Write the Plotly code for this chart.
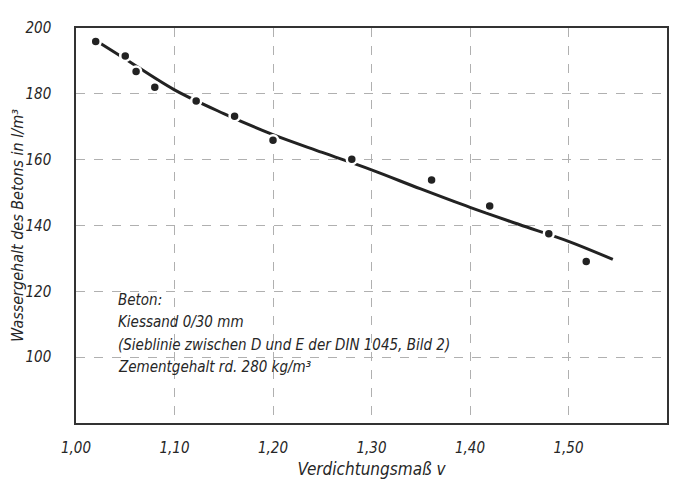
import plotly.graph_objects as go

# Measured points (Verdichtungsmaß v, Wassergehalt l/m³)
v_points = [1.02, 1.05, 1.061, 1.08, 1.122, 1.161, 1.20, 1.280, 1.361, 1.420, 1.480, 1.518]
w_points = [195.9, 191.5, 186.8, 182.0, 177.8, 173.2, 165.9, 160.1, 153.8, 145.9, 137.5, 129.1]

# Fitted curve
v_curve = [1.025, 1.05, 1.10, 1.15, 1.20, 1.25, 1.30, 1.35, 1.40, 1.45, 1.50, 1.545]
w_curve = [195.3, 190.6, 181.2, 174.0, 167.6, 162.2, 156.9, 151.1, 145.5, 140.3, 135.2, 129.7]

x_ticks = [1.0, 1.1, 1.2, 1.3, 1.4, 1.5, 1.6]
x_tick_text = ["1,00", "1,10", "1,20", "1,30", "1,40", "1,50", "1,60"]
y_ticks = [100, 120, 140, 160, 180, 200]
y_tick_text = ["100", "120", "140", "160", "180", "200"]

note_lines = [
    "Beton:",
    "Kiessand 0/30 mm",
    "(Sieblinie zwischen D und E der DIN 1045, Bild 2)",
    "Zementgehalt rd. 280 kg/m³",
]

FONT = "DejaVu Sans Condensed, Liberation Sans Narrow, Liberation Sans, sans-serif"
INK = "#262626"

fig = go.Figure()
fig.add_trace(go.Scatter(
    x=v_curve, y=w_curve, mode="lines", line=dict(color="#222222", width=3, shape="spline"),
    hoverinfo="skip", showlegend=False))
fig.add_trace(go.Scatter(
    x=v_points, y=w_points, mode="markers",
    marker=dict(size=10, color="#222222", line=dict(color="white", width=2.5)),
    showlegend=False))

fig.add_shape(type="rect", xref="paper", yref="paper", x0=0.046, x1=0.65, y0=0.096, y1=0.342,
              fillcolor="white", line=dict(width=0), layer="between")

# one annotation per line of the note, stacked
line_y = [0.311, 0.255, 0.197, 0.143]
for txt, yy in zip(note_lines, line_y):
    fig.add_annotation(
        xref="paper", yref="paper", x=0.068, y=yy, xanchor="left", yanchor="middle",
        text=txt, showarrow=False, align="left",
        font=dict(family=FONT, size=15, color=INK, style="italic"))

axis_common = dict(
    showline=True, mirror=True, linecolor="#333", linewidth=1.5,
    showgrid=True, gridcolor="#b0b0b0", griddash="dash", gridwidth=1,
    zeroline=False, ticks="", automargin=False,
    tickfont=dict(family=FONT, size=15, color=INK, style="italic"),
)

fig.update_xaxes(range=[1.0, 1.6], tickvals=x_ticks, ticktext=x_tick_text,
                 ticklabelstandoff=10,
                 title=dict(text="Verdichtungsmaß v", standoff=7,
                            font=dict(family=FONT, size=17, color=INK, style="italic")),
                 **axis_common)
fig.update_yaxes(range=[80, 200], tickvals=y_ticks, ticktext=y_tick_text,
                 ticklabelstandoff=20,
                 title=dict(text="Wassergehalt des Betons in l/m³", standoff=0,
                            font=dict(family=FONT, size=16, color=INK, style="italic")),
                 **axis_common)

# the page adds an 8px body margin, so the figure is sized to fit the window
fig.update_layout(
    width=674, height=479,
    margin=dict(l=68, r=15, t=20, b=64),
    paper_bgcolor="white", plot_bgcolor="white",
    showlegend=False,
)

fig.write_html("out.html")
